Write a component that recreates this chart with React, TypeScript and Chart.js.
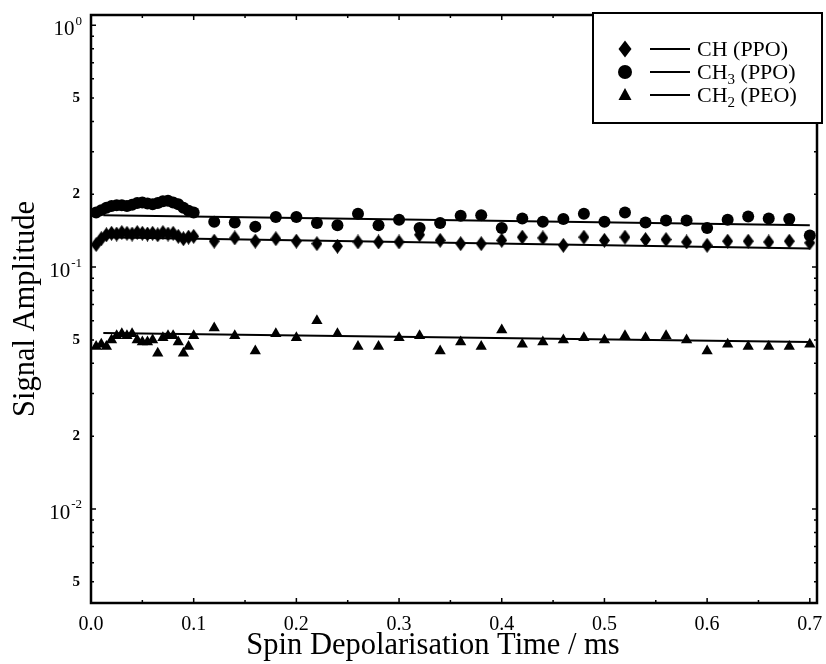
import React, { useEffect, useRef } from "react";
import { Chart, registerables } from "chart.js";

Chart.register(...registerables);

// ---- data ----
const times = [
  0.005, 0.01, 0.015, 0.02, 0.025, 0.03, 0.035, 0.04, 0.045, 0.05,
  0.055, 0.06, 0.065, 0.07, 0.075, 0.08, 0.085, 0.09, 0.095, 0.1,
  0.12, 0.14, 0.16, 0.18, 0.2, 0.22, 0.24, 0.26, 0.28, 0.3,
  0.32, 0.34, 0.36, 0.38, 0.4, 0.42, 0.44, 0.46, 0.48, 0.5,
  0.52, 0.54, 0.56, 0.58, 0.6, 0.62, 0.64, 0.66, 0.68, 0.7,
];

const chValues = [
  0.124, 0.131, 0.136, 0.138, 0.137, 0.139, 0.138, 0.137, 0.139, 0.138,
  0.137, 0.138, 0.136, 0.139, 0.137, 0.138, 0.134, 0.131, 0.133, 0.134,
  0.128, 0.132, 0.128, 0.131, 0.128, 0.125, 0.122, 0.127, 0.127, 0.127,
  0.136, 0.129, 0.125, 0.125, 0.129, 0.133, 0.132, 0.123, 0.133, 0.129,
  0.133, 0.13, 0.13, 0.127, 0.123, 0.128, 0.128, 0.127, 0.128, 0.126,
];

const ch3Values = [
  0.168, 0.172, 0.176, 0.179, 0.18, 0.18, 0.179, 0.181, 0.184, 0.185,
  0.183, 0.182, 0.184, 0.187, 0.188, 0.185, 0.182, 0.176, 0.171, 0.168,
  0.154, 0.153, 0.147, 0.161, 0.161, 0.152, 0.149, 0.166, 0.149, 0.157,
  0.145, 0.152, 0.163, 0.164, 0.145, 0.159, 0.154, 0.158, 0.166, 0.154,
  0.168, 0.153, 0.156, 0.156, 0.145, 0.157, 0.162, 0.159, 0.158, 0.135,
];

const ch2Values = [
  0.047, 0.048, 0.047, 0.05, 0.052, 0.053, 0.052, 0.053, 0.05, 0.049,
  0.049, 0.05, 0.044, 0.051, 0.052, 0.052, 0.049, 0.044, 0.047, 0.052,
  0.056, 0.052, 0.045, 0.053, 0.051, 0.06, 0.053, 0.047, 0.047, 0.051,
  0.052, 0.045, 0.049, 0.047, 0.055, 0.048, 0.049, 0.05, 0.051, 0.05,
  0.052, 0.051, 0.052, 0.05, 0.045, 0.048, 0.047, 0.047, 0.047, 0.048,
];

const fitTimes = [0.012, 0.7];
const chFit = [0.133, 0.1195];
const ch3Fit = [0.164, 0.149];
const ch2Fit = [0.0534, 0.049];

const xTickValues = [0, 0.1, 0.2, 0.3, 0.4, 0.5, 0.6, 0.7];
const xTickLabels = ["0.0", "0.1", "0.2", "0.3", "0.4", "0.5", "0.6", "0.7"];
const xMinorTicks = [0.05, 0.15, 0.25, 0.35, 0.45, 0.55, 0.65];

const yLabelValues = [1, 0.5, 0.2, 0.1, 0.05, 0.02, 0.01, 0.005];
const yLabelBases = ["10", "5", "2", "10", "5", "2", "10", "5"];
const yLabelExps = ["0", "", "", "-1", "", "", "-2", ""];
const yMinorTicks = [
  0.005, 0.006, 0.007, 0.008, 0.009,
  0.01, 0.02, 0.03, 0.04, 0.05, 0.06, 0.07, 0.08, 0.09,
  0.1, 0.2, 0.3, 0.4, 0.5, 0.6, 0.7, 0.8, 0.9, 1,
];
const yDecadeTicks = [0.01, 0.1, 1];

const legendBases = ["CH", "CH", "CH"];
const legendSubs = ["", "3", "2"];
const legendTails = [" (PPO)", " (PPO)", " (PEO)"];

const xTitle = "Spin Depolarisation Time / ms";
const yTitle = "Signal Amplitude";

const SERIF = '"Liberation Serif", "Times New Roman", serif';

function makeDiamond(w: number, h: number) {
  const c = document.createElement("canvas");
  c.width = w;
  c.height = h;
  const g = c.getContext("2d")!;
  g.fillStyle = "#000";
  g.beginPath();
  g.moveTo(w / 2, 0);
  g.lineTo(w, h / 2);
  g.lineTo(w / 2, h);
  g.lineTo(0, h / 2);
  g.closePath();
  g.fill();
  return c;
}

const decorPlugin = {
  id: "decor",
  afterDraw(chart: any) {
    const ctx: CanvasRenderingContext2D = chart.ctx;
    const { left, right, top, bottom } = chart.chartArea;
    const xs = chart.scales.x;
    const ys = chart.scales.y;
    ctx.save();
    ctx.strokeStyle = "#000";
    ctx.fillStyle = "#000";

    // frame
    ctx.lineWidth = 2.5;
    ctx.strokeRect(left, top, right - left, bottom - top);

    // y ticks
    ctx.lineWidth = 1.5;
    yMinorTicks.forEach((v) => {
      const py = ys.getPixelForValue(v);
      const len = yDecadeTicks.includes(v) ? 5 : 3;
      ctx.beginPath();
      ctx.moveTo(left, py);
      ctx.lineTo(left + len, py);
      ctx.moveTo(right, py);
      ctx.lineTo(right - len, py);
      ctx.stroke();
    });
    // x ticks
    xTickValues.forEach((v) => {
      const px = xs.getPixelForValue(v);
      ctx.beginPath();
      ctx.moveTo(px, bottom);
      ctx.lineTo(px, bottom - 5);
      ctx.moveTo(px, top);
      ctx.lineTo(px, top + 5);
      ctx.stroke();
    });
    xMinorTicks.forEach((v) => {
      const px = xs.getPixelForValue(v);
      ctx.beginPath();
      ctx.moveTo(px, bottom);
      ctx.lineTo(px, bottom - 3);
      ctx.moveTo(px, top);
      ctx.lineTo(px, top + 3);
      ctx.stroke();
    });

    // x labels
    ctx.font = `20px ${SERIF}`;
    ctx.textAlign = "center";
    ctx.textBaseline = "middle";
    xTickValues.forEach((v, i) => {
      ctx.fillText(xTickLabels[i], xs.getPixelForValue(v), 625);
    });

    // y labels
    const labelRight = 82;
    yLabelValues.forEach((v, i) => {
      const py = ys.getPixelForValue(v);
      const exp = yLabelExps[i];
      if (exp) {
        ctx.font = `13px ${SERIF}`;
        ctx.textAlign = "right";
        ctx.textBaseline = "middle";
        const ew = ctx.measureText(exp).width;
        ctx.fillText(exp, labelRight, py - 4);
        ctx.font = `21px ${SERIF}`;
        ctx.fillText(yLabelBases[i], labelRight - ew - 1, py + 4.5);
      } else {
        ctx.font = `bold 15px ${SERIF}`;
        ctx.textAlign = "right";
        ctx.textBaseline = "middle";
        ctx.fillText(yLabelBases[i], labelRight - 2, py);
      }
    });

    // axis titles
    ctx.font = `30.5px ${SERIF}`;
    ctx.textAlign = "center";
    ctx.textBaseline = "alphabetic";
    ctx.fillText(xTitle, 433, 654);
    ctx.save();
    ctx.translate(34, 309);
    ctx.rotate(-Math.PI / 2);
    ctx.fillText(yTitle, 0, 0);
    ctx.restore();

    // legend
    const bx = 593, by = 13, bw = 229, bh = 110;
    ctx.fillStyle = "#fff";
    ctx.fillRect(bx, by, bw, bh);
    ctx.fillStyle = "#000";
    ctx.lineWidth = 2;
    ctx.strokeRect(bx, by, bw, bh);
    const rows = [49, 72, 95];
    rows.forEach((ry, i) => {
      const mx = 625;
      ctx.beginPath();
      if (i === 0) {
        ctx.moveTo(mx, ry - 8.5);
        ctx.lineTo(mx + 6.5, ry);
        ctx.lineTo(mx, ry + 8.5);
        ctx.lineTo(mx - 6.5, ry);
      } else if (i === 1) {
        ctx.arc(mx, ry, 7, 0, Math.PI * 2);
      } else {
        ctx.moveTo(mx, ry - 7);
        ctx.lineTo(mx + 6.5, ry + 5);
        ctx.lineTo(mx - 6.5, ry + 5);
      }
      ctx.closePath();
      ctx.fill();
      ctx.lineWidth = 2;
      ctx.beginPath();
      ctx.moveTo(650, ry);
      ctx.lineTo(690, ry);
      ctx.stroke();
      ctx.textAlign = "left";
      ctx.textBaseline = "alphabetic";
      const base = ry + 7;
      let tx = 697;
      ctx.font = `22px ${SERIF}`;
      ctx.fillText(legendBases[i], tx, base);
      tx += ctx.measureText(legendBases[i]).width;
      if (legendSubs[i]) {
        ctx.font = `15px ${SERIF}`;
        ctx.fillText(legendSubs[i], tx, base + 5);
        tx += ctx.measureText(legendSubs[i]).width;
      }
      ctx.font = `22px ${SERIF}`;
      ctx.fillText(legendTails[i], tx, base);
    });

    ctx.restore();
  },
};

export default function App() {
  const ref = useRef<HTMLCanvasElement | null>(null);

  useEffect(() => {
    if (!ref.current) return;
    const diamond = makeDiamond(11, 15);
    const pts = (vals: number[]) => times.map((t, i) => ({ x: t, y: vals[i] }));
    const fit = (vals: number[]) => fitTimes.map((t, i) => ({ x: t, y: vals[i] }));
    const lineDs = (label: string, vals: number[]) => ({
      label,
      data: fit(vals),
      showLine: true,
      borderColor: "#000",
      borderWidth: 2,
      pointRadius: 0,
      fill: false,
      clip: false as any,
    });
    const chart = new Chart(ref.current, {
      type: "scatter",
      data: {
        datasets: [
          lineDs("CH fit", chFit),
          lineDs("CH3 fit", ch3Fit),
          lineDs("CH2 fit", ch2Fit),
          {
            label: "CH (PPO)",
            data: pts(chValues),
            pointStyle: diamond as any,
            backgroundColor: "#000",
            borderColor: "#000",
            clip: false as any,
          },
          {
            label: "CH3 (PPO)",
            data: pts(ch3Values),
            pointStyle: "circle",
            pointRadius: 6,
            borderWidth: 0,
            backgroundColor: "#000",
            borderColor: "#000",
            clip: false as any,
          },
          {
            label: "CH2 (PEO)",
            data: pts(ch2Values),
            pointStyle: "triangle",
            pointRadius: 6.5,
            borderWidth: 0,
            backgroundColor: "#000",
            borderColor: "#000",
            clip: false as any,
          },
        ],
      },
      options: {
        animation: false,
        responsive: false,
        devicePixelRatio: 1,
        layout: { padding: { left: 91, right: 9, top: 15, bottom: 61 } },
        scales: {
          x: { type: "linear", min: 0, max: 0.707, display: false },
          y: { type: "logarithmic", min: 0.004087, max: 1.102, display: false },
        },
        plugins: {
          legend: { display: false },
          tooltip: { enabled: false },
        },
      },
      plugins: [decorPlugin],
    });
    return () => chart.destroy();
  }, []);

  return (
    <div style={{ position: "fixed", left: 0, top: 0, width: 826, height: 664, background: "#fff" }}>
      <canvas ref={ref} width={826} height={664} style={{ display: "block" }} />
    </div>
  );
}
